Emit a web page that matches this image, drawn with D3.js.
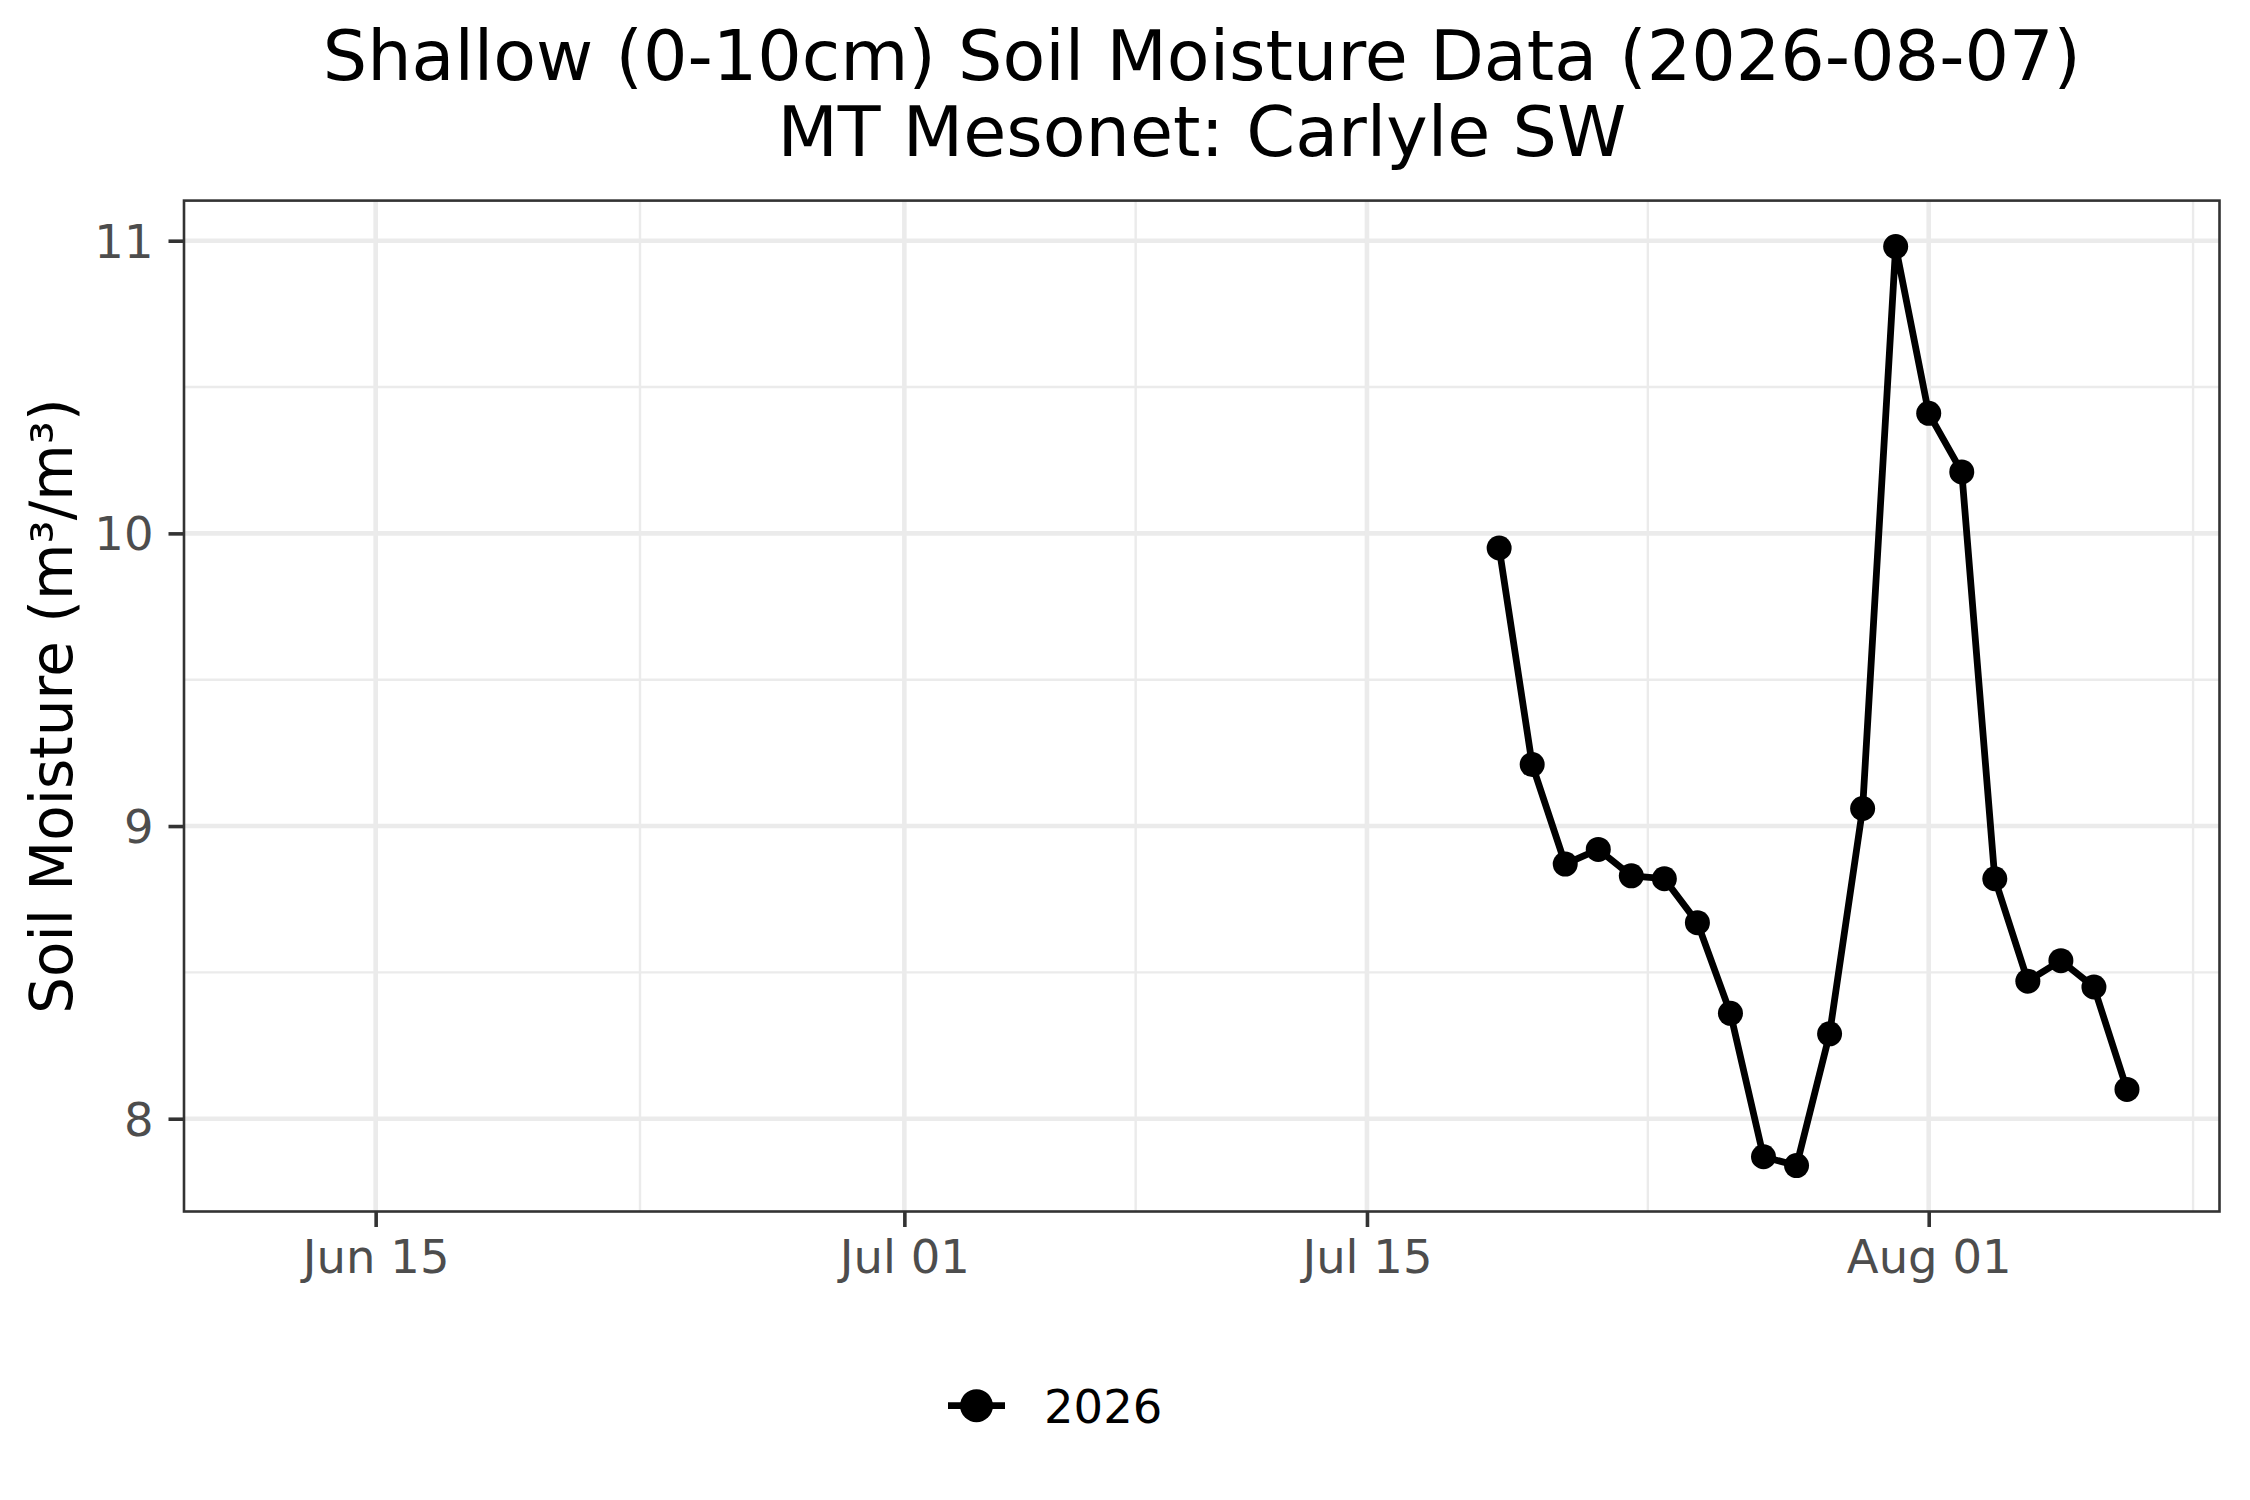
<!DOCTYPE html>
<html>
<head>
<meta charset="utf-8">
<script src="https://cdn.jsdelivr.net/npm/d3@7"></script>
<style>
  html, body { margin: 0; padding: 0; background: #fff; }
  svg { display: block; font-family: "DejaVu Sans", sans-serif; }
</style>
</head>
<body>
<svg id="chart" width="2250" height="1500"></svg>
<script>
// ---- data ----
const dates = ["2026-07-19","2026-07-20","2026-07-21","2026-07-22","2026-07-23","2026-07-24","2026-07-25","2026-07-26","2026-07-27","2026-07-28","2026-07-29","2026-07-30","2026-07-31","2026-08-01","2026-08-02","2026-08-03","2026-08-04","2026-08-05","2026-08-06","2026-08-07"];
const moisture = [9.95, 9.21, 8.87, 8.92, 8.83, 8.82, 8.67, 8.36, 7.87, 7.84, 8.29, 9.06, 10.98, 10.41, 10.21, 8.82, 8.47, 8.54, 8.45, 8.10];
const seriesName = "2026";
const xLimits = ["2026-06-12", "2026-08-07"];
const xMajorTicks = ["2026-06-15", "2026-07-01", "2026-07-15", "2026-08-01"];
const xMinorTicks = ["2026-06-23T00:00", "2026-07-08T00:00", "2026-07-23T12:00", "2026-08-09T00:00"];
const yMajorTicks = [8, 9, 10, 11];
const yMinorTicks = [7.5, 8.5, 9.5, 10.5];
const titleLines = ["Shallow (0-10cm) Soil Moisture Data (2026-08-07)", "MT Mesonet: Carlyle SW"];
const yTitle = "Soil Moisture (m³/m³)";

// ---- layout ----
const W = 2250, H = 1500;
const panel = { left: 184, right: 2219.5, top: 200.6, bottom: 1211.5 };
const svg = d3.select("#chart");
const parse = s => new Date(s + (s.length === 10 ? "T00:00:00Z" : ":00Z"));

const data = dates.map((d, i) => ({ date: parse(d), value: moisture[i] }));

// x scale: limits expanded by 5% each side
const l0 = parse(xLimits[0]).getTime(), l1 = parse(xLimits[1]).getTime();
const xpad = (l1 - l0) * 0.05;
const x = d3.scaleUtc().domain([new Date(l0 - xpad), new Date(l1 + xpad)]).range([panel.left, panel.right]);

// y scale: data range expanded by 5%
const [ymin, ymax] = d3.extent(moisture);
const ypad = (ymax - ymin) * 0.05;
const y = d3.scaleLinear().domain([ymin - ypad, ymax + ypad]).range([panel.bottom, panel.top]);

const grid = svg.append("g");
const yMin = y.domain()[0], yMax = y.domain()[1];
// minor grid
grid.selectAll("line.ymin").data(yMinorTicks.filter(v => v >= yMin && v <= yMax)).join("line")
  .attr("x1", panel.left).attr("x2", panel.right)
  .attr("y1", d => y(d)).attr("y2", d => y(d))
  .attr("stroke", "#EBEBEB").attr("stroke-width", 2.4);
grid.selectAll("line.xmin").data(xMinorTicks.map(parse)).join("line")
  .attr("y1", panel.top).attr("y2", panel.bottom)
  .attr("x1", d => x(d)).attr("x2", d => x(d))
  .attr("stroke", "#EBEBEB").attr("stroke-width", 2.4);
// major grid
grid.selectAll("line.ymaj").data(yMajorTicks).join("line")
  .attr("x1", panel.left).attr("x2", panel.right)
  .attr("y1", d => y(d)).attr("y2", d => y(d))
  .attr("stroke", "#EBEBEB").attr("stroke-width", 4.6);
grid.selectAll("line.xmaj").data(xMajorTicks.map(parse)).join("line")
  .attr("y1", panel.top).attr("y2", panel.bottom)
  .attr("x1", d => x(d)).attr("x2", d => x(d))
  .attr("stroke", "#EBEBEB").attr("stroke-width", 4.6);

// data line + points
const line = d3.line().x(d => x(d.date)).y(d => y(d.value));
svg.append("path").datum(data)
  .attr("d", line).attr("fill", "none").attr("stroke", "#000")
  .attr("stroke-width", 6.8).attr("stroke-linejoin", "round");
svg.append("g").selectAll("circle").data(data).join("circle")
  .attr("cx", d => x(d.date)).attr("cy", d => y(d.value))
  .attr("r", 12.5).attr("fill", "#000");

// panel border
svg.append("rect")
  .attr("x", panel.left).attr("y", panel.top)
  .attr("width", panel.right - panel.left).attr("height", panel.bottom - panel.top)
  .attr("fill", "none").attr("stroke", "#333333").attr("stroke-width", 2.6);

// axes
const fmt = d3.utcFormat("%b %d");
const xAxis = d3.axisBottom(x).tickValues(xMajorTicks.map(parse)).tickFormat(fmt)
  .tickSize(15.5).tickPadding(12);
const gx = svg.append("g").attr("transform", `translate(0,${panel.bottom})`).call(xAxis);
gx.select(".domain").remove();
gx.selectAll(".tick line").attr("stroke", "#333333").attr("stroke-width", 3.6);
gx.selectAll(".tick text").attr("fill", "#4D4D4D").attr("font-size", 46.5)
  .attr("font-family", "DejaVu Sans").attr("dy", null).attr("y", 61.5)
  .attr("dominant-baseline", "alphabetic");

const yAxis = d3.axisLeft(y).tickValues(yMajorTicks).tickFormat(d3.format("d"))
  .tickSize(15.5).tickPadding(15);
const gy = svg.append("g").attr("transform", `translate(${panel.left},0)`).call(yAxis);
gy.select(".domain").remove();
gy.selectAll(".tick line").attr("stroke", "#333333").attr("stroke-width", 3.6);
gy.selectAll(".tick text").attr("fill", "#4D4D4D").attr("font-size", 46.5)
  .attr("font-family", "DejaVu Sans").attr("dy", "0.355em");

// y title
svg.append("text")
  .attr("transform", `translate(72,${(panel.top + panel.bottom) / 2}) rotate(-90)`)
  .attr("text-anchor", "middle").attr("font-size", 58).attr("fill", "#000")
  .text(yTitle);

// titles
const cx = (panel.left + panel.right) / 2;
svg.append("g").selectAll("text").data(titleLines).join("text")
  .attr("x", cx).attr("y", (d, i) => 80 + i * 75.7)
  .attr("text-anchor", "middle").attr("font-size", 70).attr("fill", "#000")
  .text(d => d);

// legend
const lg = svg.append("g");
lg.append("line").attr("x1", 948).attr("x2", 1005).attr("y1", 1405.7).attr("y2", 1405.7)
  .attr("stroke", "#000").attr("stroke-width", 6.8);
lg.append("circle").attr("cx", 976.5).attr("cy", 1405.7).attr("r", 16.5).attr("fill", "#000");
lg.append("text").attr("x", 1044).attr("y", 1423).attr("font-size", 46.5).attr("fill", "#000")
  .text(seriesName);
</script>
</body>
</html>
